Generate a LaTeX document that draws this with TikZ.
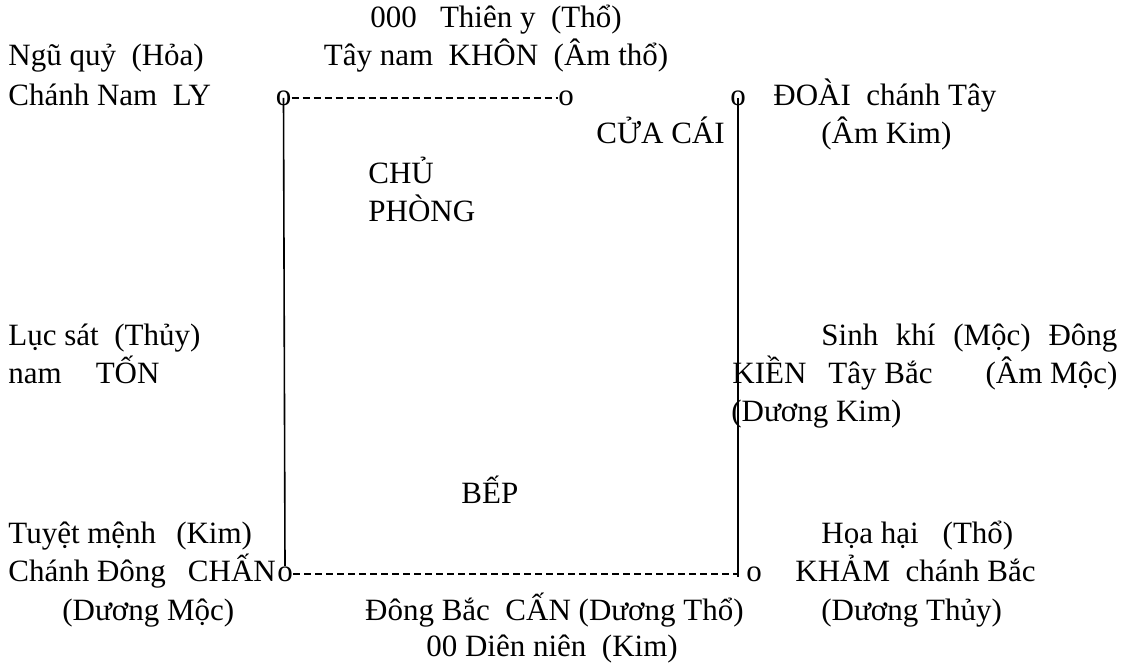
\documentclass[tikz,border=0pt]{standalone}
\usepackage{fontspec}
\setmainfont{Liberation Serif}
\newcommand\fs{\fontsize{15.5}{18}\selectfont}
\tikzset{
  txt/.style={anchor=base west, inner sep=0pt, font=\fs},
  ctxt/.style={anchor=base, inner sep=0pt, font=\fs},
  etxt/.style={anchor=base east, inner sep=0pt, font=\fs},
  oo/.style={anchor=base, inner sep=0pt, font=\fs},
  dashline/.style={dash pattern=on 3.5pt off 2pt, line width=0.7pt},
  wall/.style={line width=0.8pt}
}
\begin{document}
\begin{tikzpicture}[x=0.5pt,y=-0.5pt]
\useasboundingbox (0,0) rectangle (1126,664);
% top
\node[ctxt] (t1) at (496,27) {000\ \ \ Thiên y\ \ (Thổ)};
\node[txt] (t2) at (8,65) {Ngũ quỷ\ \ (Hỏa)};
\node[ctxt] (t3) at (496,65) {Tây nam\ \ KHÔN\ \ (Âm thổ)};
\node[txt] (t4) at (8,105) {Chánh Nam\ \ LY};
\node[oo] (oTL) at (283.5,105) {o};
\node[oo] (oTR) at (566,105) {o};
\node[oo] (oR) at (738,105) {o};
\node[txt] (t5) at (773,105) {ĐOÀI\ \ chánh Tây};
\node[txt] (t6) at (596,143) {CỬA CÁI};
\node[txt] (t7) at (821,143) {(Âm Kim)};
\node[txt] (t8) at (368,183) {CHỦ};
\node[txt] (t9) at (368,221) {PHÒNG};
% middle
\node[txt] (t10) at (8,345) {Lục sát\ \ (Thủy)};
\node[txt] (t11) at (821,345) {\makebox[148pt][s]{Sinh khí (Mộc) Đông}};
\node[txt] (t12) at (8,383) {nam\hspace{17pt}TỐN};
\node[txt] (t13) at (732,383) {\makebox[192.5pt][l]{KIỀN\hspace{11pt}Tây Bắc\hfill(Âm Mộc)}};
\node[txt] (t14) at (731,421) {(Dương Kim)};
% bottom
\node[txt] (t15) at (461,503) {BẾP};
\node[txt] (t16) at (8,543) {Tuyệt mệnh\hspace{10pt}(Kim)};
\node[txt] (t17) at (821,543) {Họa hại\hspace{12pt}(Thổ)};
\node[txt] (t18) at (8,581) {Chánh Đông\hspace{11pt}CHẤN};
\node[oo] (oBL) at (285,581) {o};
\node[oo] (oBR) at (754,581) {o};
\node[txt] (t19) at (795,581) {KHẢM\ \ chánh Bắc};
\node[txt] (t20) at (62,620) {(Dương Mộc)};
\node[etxt] (t21) at (744,620) {Đông Bắc\ \ CẤN (Dương Thổ)};
\node[txt] (t22) at (821,620) {(Dương Thủy)};
\node[ctxt] (t23) at (552,656) {00 Diên niên\ \ (Kim)};
\coordinate (cBR) at ([yshift=-1.5pt]oR |- oBL.center);
% connectors
\draw[dashline] (oTL.east) -- (oTR.west);
\draw[dashline] (oBL.east) -- (oBL.east -| cBR);
\draw[wall] (oTL.center) -- (oBL.north);
\draw[wall] (oR.center) -- (cBR);
\end{tikzpicture}
\end{document}
